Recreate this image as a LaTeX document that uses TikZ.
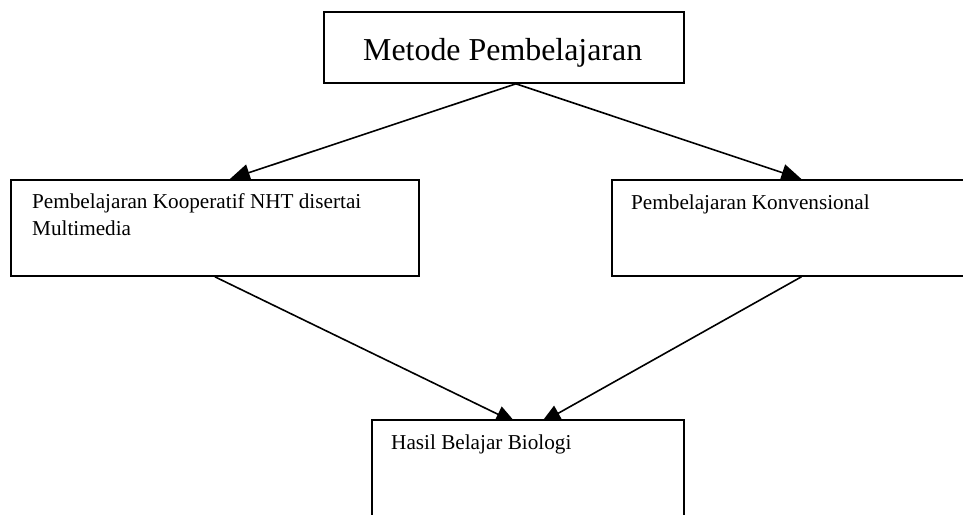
\documentclass[tikz,border=0pt]{standalone}
\usepackage{fontspec}
\setmainfont{Liberation Serif}
\usetikzlibrary{arrows.meta}
\pgfdeclarelayer{bg}
\pgfsetlayers{bg,main}
\tikzset{
  box/.style={draw=black, fill=white, line width=1.8pt, rectangle, inner sep=0pt, anchor=north west},
  arr/.style={draw=black, line width=1.6pt, -{Triangle[length=20pt,width=17pt]}},
  bigtxt/.style={anchor=base west, inner sep=0pt, font=\fontsize{31.9}{38}\selectfont},
  smalltxt/.style={anchor=base west, inner sep=0pt, align=left, font=\fontsize{21.2}{27.5}\selectfont}
}
\begin{document}
\begin{tikzpicture}[x=1pt,y=-1pt]
\useasboundingbox (0,0) rectangle (963,514);
\clip (0,0) rectangle (963,514);
% boxes
\node[box, minimum width=360pt, minimum height=71pt] (top) at (322.7,11) {};
\node[box, minimum width=408pt, minimum height=96pt] (left) at (10,179) {};
\node[box, minimum width=379pt, minimum height=96pt] (right) at (611,179) {};
\node[box, minimum width=312pt, minimum height=140pt] (bottom) at (371,419) {};
% texts
\node[bigtxt] (ttop) at (363,60) {Metode Pembelajaran};
\node[smalltxt] (tleft) at (32,235.5) {Pembelajaran Kooperatif NHT disertai\\Multimedia};
\node[smalltxt] (tright) at (631,209) {Pembelajaran Konvensional};
\node[smalltxt] (tbottom) at (391,449) {Hasil Belajar Biologi};
% connectors
\begin{pgfonlayer}{bg}
\draw[arr] ([xshift=12.3pt]top.south) -- ([xshift=15pt]left.north);
\draw[arr] ([xshift=12.3pt]top.south) -- (right.north);
\draw[arr] (left.south) -- ([xshift=-12pt,yshift=-4pt]bottom.north);
\draw[arr] (right.south) -- ([xshift=13pt,yshift=-4pt]bottom.north);
\end{pgfonlayer}
\end{tikzpicture}
\end{document}
